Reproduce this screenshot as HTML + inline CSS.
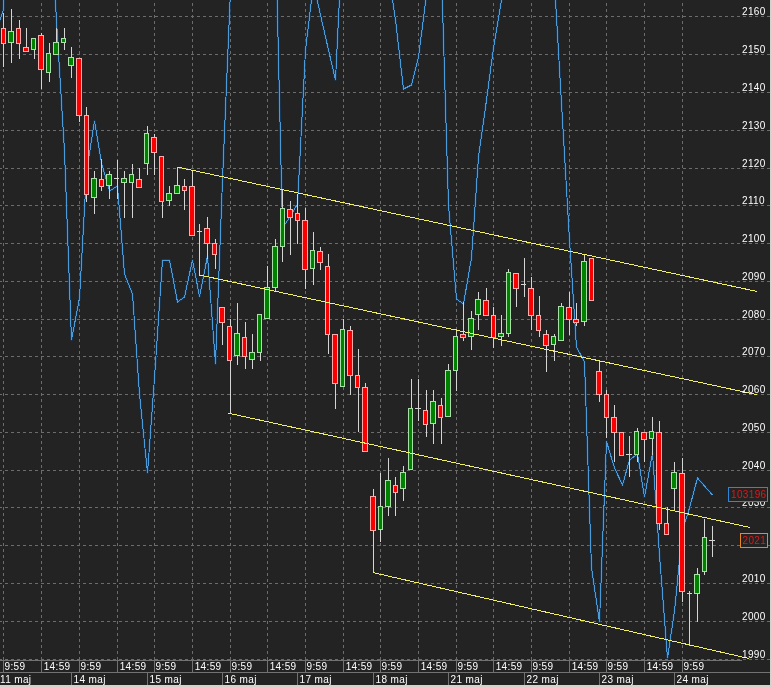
<!DOCTYPE html>
<html><head><meta charset="utf-8"><title>Chart</title>
<style>html,body{margin:0;padding:0;background:#232323;}body{width:771px;height:687px;overflow:hidden;}svg{display:block;}text{font-family:"Liberation Sans",Arial,sans-serif;font-size:10px;letter-spacing:0.35px;}</style></head><body>
<svg width="771" height="687" viewBox="0 0 771 687">
<rect x="0" y="0" width="771" height="687" fill="#232323"/>
<g stroke="#6c6c6c" stroke-width="1" fill="none" shape-rendering="crispEdges">
<line x1="0" y1="16.5" x2="770" y2="16.5" stroke-dasharray="3 3" stroke-dashoffset="1"/>
<line x1="0" y1="54.5" x2="770" y2="54.5" stroke-dasharray="3 3" stroke-dashoffset="1"/>
<line x1="0" y1="92.5" x2="770" y2="92.5" stroke-dasharray="3 3" stroke-dashoffset="1"/>
<line x1="0" y1="130.5" x2="770" y2="130.5" stroke-dasharray="3 3" stroke-dashoffset="1"/>
<line x1="0" y1="168.5" x2="770" y2="168.5" stroke-dasharray="3 3" stroke-dashoffset="1"/>
<line x1="0" y1="205.5" x2="770" y2="205.5" stroke-dasharray="3 3" stroke-dashoffset="1"/>
<line x1="0" y1="243.5" x2="770" y2="243.5" stroke-dasharray="3 3" stroke-dashoffset="1"/>
<line x1="0" y1="281.5" x2="770" y2="281.5" stroke-dasharray="3 3" stroke-dashoffset="1"/>
<line x1="0" y1="319.5" x2="770" y2="319.5" stroke-dasharray="3 3" stroke-dashoffset="1"/>
<line x1="0" y1="356.5" x2="770" y2="356.5" stroke-dasharray="3 3" stroke-dashoffset="1"/>
<line x1="0" y1="394.5" x2="770" y2="394.5" stroke-dasharray="3 3" stroke-dashoffset="1"/>
<line x1="0" y1="432.5" x2="770" y2="432.5" stroke-dasharray="3 3" stroke-dashoffset="1"/>
<line x1="0" y1="470.5" x2="770" y2="470.5" stroke-dasharray="3 3" stroke-dashoffset="1"/>
<line x1="0" y1="507.5" x2="770" y2="507.5" stroke-dasharray="3 3" stroke-dashoffset="1"/>
<line x1="0" y1="545.5" x2="770" y2="545.5" stroke-dasharray="3 3" stroke-dashoffset="1"/>
<line x1="0" y1="583.5" x2="770" y2="583.5" stroke-dasharray="3 3" stroke-dashoffset="1"/>
<line x1="0" y1="621.5" x2="770" y2="621.5" stroke-dasharray="3 3" stroke-dashoffset="1"/>
<line x1="0" y1="659.5" x2="770" y2="659.5" stroke-dasharray="3 3" stroke-dashoffset="1"/>
<line x1="3.5" y1="0" x2="3.5" y2="660" stroke-dasharray="3 3" stroke-dashoffset="3"/>
<line x1="41.5" y1="0" x2="41.5" y2="660" stroke-dasharray="3 3" stroke-dashoffset="3"/>
<line x1="79.5" y1="0" x2="79.5" y2="660" stroke-dasharray="3 3" stroke-dashoffset="3"/>
<line x1="117.5" y1="0" x2="117.5" y2="660" stroke-dasharray="3 3" stroke-dashoffset="3"/>
<line x1="154.5" y1="0" x2="154.5" y2="660" stroke-dasharray="3 3" stroke-dashoffset="3"/>
<line x1="192.5" y1="0" x2="192.5" y2="660" stroke-dasharray="3 3" stroke-dashoffset="3"/>
<line x1="230.5" y1="0" x2="230.5" y2="660" stroke-dasharray="3 3" stroke-dashoffset="3"/>
<line x1="267.5" y1="0" x2="267.5" y2="660" stroke-dasharray="3 3" stroke-dashoffset="3"/>
<line x1="305.5" y1="0" x2="305.5" y2="660" stroke-dasharray="3 3" stroke-dashoffset="3"/>
<line x1="343.5" y1="0" x2="343.5" y2="660" stroke-dasharray="3 3" stroke-dashoffset="3"/>
<line x1="380.5" y1="0" x2="380.5" y2="660" stroke-dasharray="3 3" stroke-dashoffset="3"/>
<line x1="418.5" y1="0" x2="418.5" y2="660" stroke-dasharray="3 3" stroke-dashoffset="3"/>
<line x1="456.5" y1="0" x2="456.5" y2="660" stroke-dasharray="3 3" stroke-dashoffset="3"/>
<line x1="493.5" y1="0" x2="493.5" y2="660" stroke-dasharray="3 3" stroke-dashoffset="3"/>
<line x1="531.5" y1="0" x2="531.5" y2="660" stroke-dasharray="3 3" stroke-dashoffset="3"/>
<line x1="569.5" y1="0" x2="569.5" y2="660" stroke-dasharray="3 3" stroke-dashoffset="3"/>
<line x1="606.5" y1="0" x2="606.5" y2="660" stroke-dasharray="3 3" stroke-dashoffset="3"/>
<line x1="644.5" y1="0" x2="644.5" y2="660" stroke-dasharray="3 3" stroke-dashoffset="3"/>
<line x1="682.5" y1="0" x2="682.5" y2="660" stroke-dasharray="3 3" stroke-dashoffset="3"/>
</g>
<polyline points="-3.5,29 3.5,10 11.5,-300 19.5,-300 26.5,-300 34.5,-300 41.5,-250 49.5,-107 56.5,21 64.5,151 71.5,340 79.5,298 86.5,172 94.5,121 101.5,163 109.5,191 117.5,186 124.5,274 132.5,294 139.5,394 147.5,473 154.5,378 162.5,260 169.5,260 177.5,302 184.5,297 192.5,260 199.5,296.5 207.5,256 215.5,364 222.5,180 230.5,-10 237.5,-200 245.5,-250 252.5,-250 260.5,-250 267.5,-200 275.5,-70 282.5,228 290.5,216 297.5,204 305.5,50 313.5,-17 320.5,15 328.5,50 335.5,80 343.5,-84 350.5,-200 358.5,-250 365.5,-250 373.5,-200 380.5,-120 388.5,-27 395.5,20 403.5,89 411.5,85 418.5,57 426.5,-5 433.5,-50 441.5,-27 448.5,205 456.5,299 463.5,304 471.5,258 478.5,157 486.5,100 493.5,48 501.5,0 508.5,-60 516.5,-150 524.5,-200 531.5,-200 539.5,-200 546.5,-120 554.5,-17 561.5,103 569.5,240 576.5,347 584.5,362 591.5,568 599.5,622 606.5,441.5 614.5,468 622.5,485 629.5,460 637.5,454 644.5,497 652.5,453 659.5,555 667.5,658 674.5,611 682.5,530 689.5,508 697.5,478 704.5,486 712.5,495" fill="none" stroke="#143c62" stroke-width="2.2" stroke-linejoin="round"/>
<polyline points="-3.5,29 3.5,10 11.5,-300 19.5,-300 26.5,-300 34.5,-300 41.5,-250 49.5,-107 56.5,21 64.5,151 71.5,340 79.5,298 86.5,172 94.5,121 101.5,163 109.5,191 117.5,186 124.5,274 132.5,294 139.5,394 147.5,473 154.5,378 162.5,260 169.5,260 177.5,302 184.5,297 192.5,260 199.5,296.5 207.5,256 215.5,364 222.5,180 230.5,-10 237.5,-200 245.5,-250 252.5,-250 260.5,-250 267.5,-200 275.5,-70 282.5,228 290.5,216 297.5,204 305.5,50 313.5,-17 320.5,15 328.5,50 335.5,80 343.5,-84 350.5,-200 358.5,-250 365.5,-250 373.5,-200 380.5,-120 388.5,-27 395.5,20 403.5,89 411.5,85 418.5,57 426.5,-5 433.5,-50 441.5,-27 448.5,205 456.5,299 463.5,304 471.5,258 478.5,157 486.5,100 493.5,48 501.5,0 508.5,-60 516.5,-150 524.5,-200 531.5,-200 539.5,-200 546.5,-120 554.5,-17 561.5,103 569.5,240 576.5,347 584.5,362 591.5,568 599.5,622 606.5,441.5 614.5,468 622.5,485 629.5,460 637.5,454 644.5,497 652.5,453 659.5,555 667.5,658 674.5,611 682.5,530 689.5,508 697.5,478 704.5,486 712.5,495" fill="none" stroke="#4c9ad8" stroke-width="1" stroke-linejoin="miter" stroke-miterlimit="3" shape-rendering="crispEdges"/>
<g shape-rendering="crispEdges">
<rect x="3" y="13" width="1" height="54" fill="#d4d4d4"/>
<rect x="1" y="28" width="5" height="16" fill="#ffaaaa"/>
<rect x="2" y="29" width="3" height="14" fill="#f80000"/>
<rect x="11" y="9" width="1" height="54" fill="#d4d4d4"/>
<rect x="8" y="31" width="6" height="12" fill="#a8e0a8"/>
<rect x="9" y="32" width="4" height="10" fill="#008200"/>
<rect x="19" y="20" width="1" height="39" fill="#d4d4d4"/>
<rect x="16" y="28" width="5" height="16" fill="#ffaaaa"/>
<rect x="17" y="29" width="3" height="14" fill="#f80000"/>
<rect x="26" y="28" width="1" height="24" fill="#d4d4d4"/>
<rect x="23" y="47" width="6" height="5" fill="#ffaaaa"/>
<rect x="24" y="48" width="4" height="3" fill="#f80000"/>
<rect x="34" y="38" width="1" height="21" fill="#d4d4d4"/>
<rect x="31" y="38" width="5" height="12" fill="#a8e0a8"/>
<rect x="32" y="39" width="3" height="10" fill="#008200"/>
<rect x="41" y="33" width="1" height="56" fill="#d4d4d4"/>
<rect x="38" y="35" width="6" height="35" fill="#ffaaaa"/>
<rect x="39" y="36" width="4" height="33" fill="#f80000"/>
<rect x="49" y="43" width="1" height="39" fill="#d4d4d4"/>
<rect x="46" y="53" width="5" height="20" fill="#a8e0a8"/>
<rect x="47" y="54" width="3" height="18" fill="#008200"/>
<rect x="56" y="28" width="1" height="27" fill="#d4d4d4"/>
<rect x="53" y="42" width="6" height="13" fill="#a8e0a8"/>
<rect x="54" y="43" width="4" height="11" fill="#008200"/>
<rect x="64" y="28" width="1" height="22" fill="#d4d4d4"/>
<rect x="61" y="38" width="5" height="5" fill="#a8e0a8"/>
<rect x="62" y="39" width="3" height="3" fill="#008200"/>
<rect x="71" y="47" width="1" height="31" fill="#d4d4d4"/>
<rect x="68" y="57" width="6" height="9" fill="#a8e0a8"/>
<rect x="69" y="58" width="4" height="7" fill="#008200"/>
<rect x="79" y="58" width="1" height="64" fill="#d4d4d4"/>
<rect x="76" y="58" width="6" height="58" fill="#ffaaaa"/>
<rect x="77" y="59" width="4" height="56" fill="#f80000"/>
<rect x="86" y="107" width="1" height="95" fill="#d4d4d4"/>
<rect x="84" y="115" width="5" height="80" fill="#ffaaaa"/>
<rect x="85" y="116" width="3" height="78" fill="#f80000"/>
<rect x="94" y="171" width="1" height="43" fill="#d4d4d4"/>
<rect x="91" y="178" width="6" height="20" fill="#a8e0a8"/>
<rect x="92" y="179" width="4" height="18" fill="#008200"/>
<rect x="101" y="159" width="1" height="32" fill="#d4d4d4"/>
<rect x="99" y="179" width="5" height="8" fill="#ffaaaa"/>
<rect x="100" y="180" width="3" height="6" fill="#f80000"/>
<rect x="109" y="171" width="1" height="28" fill="#d4d4d4"/>
<rect x="106" y="174" width="6" height="12" fill="#a8e0a8"/>
<rect x="107" y="175" width="4" height="10" fill="#008200"/>
<rect x="117" y="160" width="1" height="39" fill="#d4d4d4"/>
<rect x="114" y="178" width="5" height="1" fill="#d4d4d4"/>
<rect x="124" y="171" width="1" height="47" fill="#d4d4d4"/>
<rect x="121" y="178" width="6" height="5" fill="#a8e0a8"/>
<rect x="122" y="179" width="4" height="3" fill="#008200"/>
<rect x="132" y="164" width="1" height="54" fill="#d4d4d4"/>
<rect x="129" y="174" width="5" height="9" fill="#a8e0a8"/>
<rect x="130" y="175" width="3" height="7" fill="#008200"/>
<rect x="139" y="168" width="1" height="20" fill="#d4d4d4"/>
<rect x="136" y="179" width="6" height="9" fill="#ffaaaa"/>
<rect x="137" y="180" width="4" height="7" fill="#f80000"/>
<rect x="147" y="126" width="1" height="49" fill="#d4d4d4"/>
<rect x="144" y="133" width="5" height="31" fill="#a8e0a8"/>
<rect x="145" y="134" width="3" height="29" fill="#008200"/>
<rect x="154" y="134" width="1" height="41" fill="#d4d4d4"/>
<rect x="151" y="137" width="6" height="16" fill="#ffaaaa"/>
<rect x="152" y="138" width="4" height="14" fill="#f80000"/>
<rect x="162" y="156" width="1" height="62" fill="#d4d4d4"/>
<rect x="159" y="156" width="5" height="46" fill="#ffaaaa"/>
<rect x="160" y="157" width="3" height="44" fill="#f80000"/>
<rect x="169" y="186" width="1" height="20" fill="#d4d4d4"/>
<rect x="166" y="193" width="6" height="8" fill="#a8e0a8"/>
<rect x="167" y="194" width="4" height="6" fill="#008200"/>
<rect x="177" y="167" width="1" height="27" fill="#d4d4d4"/>
<rect x="174" y="185" width="6" height="9" fill="#a8e0a8"/>
<rect x="175" y="186" width="4" height="7" fill="#008200"/>
<rect x="184" y="179" width="1" height="31" fill="#d4d4d4"/>
<rect x="182" y="186" width="5" height="5" fill="#ffaaaa"/>
<rect x="183" y="187" width="3" height="3" fill="#f80000"/>
<rect x="192" y="170" width="1" height="66" fill="#d4d4d4"/>
<rect x="189" y="186" width="6" height="50" fill="#ffaaaa"/>
<rect x="190" y="187" width="4" height="48" fill="#f80000"/>
<rect x="199" y="224" width="1" height="52" fill="#d4d4d4"/>
<rect x="197" y="231" width="5" height="1" fill="#d4d4d4"/>
<rect x="207" y="217" width="1" height="42" fill="#d4d4d4"/>
<rect x="204" y="228" width="6" height="16" fill="#ffaaaa"/>
<rect x="205" y="229" width="4" height="14" fill="#f80000"/>
<rect x="215" y="239" width="1" height="30" fill="#d4d4d4"/>
<rect x="212" y="243" width="5" height="12" fill="#ffaaaa"/>
<rect x="213" y="244" width="3" height="10" fill="#f80000"/>
<rect x="222" y="307" width="1" height="38" fill="#d4d4d4"/>
<rect x="219" y="307" width="6" height="16" fill="#ffaaaa"/>
<rect x="220" y="308" width="4" height="14" fill="#f80000"/>
<rect x="230" y="319" width="1" height="95" fill="#d4d4d4"/>
<rect x="227" y="326" width="5" height="35" fill="#ffaaaa"/>
<rect x="228" y="327" width="3" height="33" fill="#f80000"/>
<rect x="237" y="303" width="1" height="62" fill="#d4d4d4"/>
<rect x="234" y="333" width="6" height="23" fill="#a8e0a8"/>
<rect x="235" y="334" width="4" height="21" fill="#008200"/>
<rect x="245" y="322" width="1" height="47" fill="#d4d4d4"/>
<rect x="242" y="337" width="5" height="20" fill="#ffaaaa"/>
<rect x="243" y="338" width="3" height="18" fill="#f80000"/>
<rect x="252" y="334" width="1" height="35" fill="#d4d4d4"/>
<rect x="249" y="352" width="6" height="8" fill="#a8e0a8"/>
<rect x="250" y="353" width="4" height="6" fill="#008200"/>
<rect x="260" y="314" width="1" height="47" fill="#d4d4d4"/>
<rect x="257" y="314" width="5" height="39" fill="#a8e0a8"/>
<rect x="258" y="315" width="3" height="37" fill="#008200"/>
<rect x="267" y="266" width="1" height="53" fill="#d4d4d4"/>
<rect x="264" y="287" width="6" height="32" fill="#a8e0a8"/>
<rect x="265" y="288" width="4" height="30" fill="#008200"/>
<rect x="275" y="239" width="1" height="53" fill="#d4d4d4"/>
<rect x="272" y="246" width="6" height="42" fill="#a8e0a8"/>
<rect x="273" y="247" width="4" height="40" fill="#008200"/>
<rect x="282" y="189" width="1" height="73" fill="#d4d4d4"/>
<rect x="280" y="208" width="5" height="39" fill="#a8e0a8"/>
<rect x="281" y="209" width="3" height="37" fill="#008200"/>
<rect x="290" y="201" width="1" height="54" fill="#d4d4d4"/>
<rect x="287" y="209" width="6" height="9" fill="#ffaaaa"/>
<rect x="288" y="210" width="4" height="7" fill="#f80000"/>
<rect x="297" y="194" width="1" height="50" fill="#d4d4d4"/>
<rect x="295" y="213" width="5" height="8" fill="#ffaaaa"/>
<rect x="296" y="214" width="3" height="6" fill="#f80000"/>
<rect x="305" y="208" width="1" height="81" fill="#d4d4d4"/>
<rect x="302" y="220" width="6" height="50" fill="#ffaaaa"/>
<rect x="303" y="221" width="4" height="48" fill="#f80000"/>
<rect x="313" y="232" width="1" height="53" fill="#d4d4d4"/>
<rect x="310" y="250" width="5" height="19" fill="#a8e0a8"/>
<rect x="311" y="251" width="3" height="17" fill="#008200"/>
<rect x="320" y="247" width="1" height="23" fill="#d4d4d4"/>
<rect x="317" y="251" width="6" height="12" fill="#ffaaaa"/>
<rect x="318" y="252" width="4" height="10" fill="#f80000"/>
<rect x="328" y="254" width="1" height="100" fill="#d4d4d4"/>
<rect x="325" y="266" width="5" height="69" fill="#ffaaaa"/>
<rect x="326" y="267" width="3" height="67" fill="#f80000"/>
<rect x="335" y="334" width="1" height="75" fill="#d4d4d4"/>
<rect x="332" y="334" width="6" height="50" fill="#ffaaaa"/>
<rect x="333" y="335" width="4" height="48" fill="#f80000"/>
<rect x="343" y="319" width="1" height="68" fill="#d4d4d4"/>
<rect x="340" y="329" width="5" height="58" fill="#a8e0a8"/>
<rect x="341" y="330" width="3" height="56" fill="#008200"/>
<rect x="350" y="326" width="1" height="69" fill="#d4d4d4"/>
<rect x="347" y="330" width="6" height="46" fill="#ffaaaa"/>
<rect x="348" y="331" width="4" height="44" fill="#f80000"/>
<rect x="358" y="349" width="1" height="83" fill="#d4d4d4"/>
<rect x="355" y="375" width="5" height="13" fill="#ffaaaa"/>
<rect x="356" y="376" width="3" height="11" fill="#f80000"/>
<rect x="365" y="383" width="1" height="69" fill="#d4d4d4"/>
<rect x="362" y="387" width="6" height="65" fill="#ffaaaa"/>
<rect x="363" y="388" width="4" height="63" fill="#f80000"/>
<rect x="373" y="489" width="1" height="84" fill="#d4d4d4"/>
<rect x="370" y="496" width="6" height="35" fill="#ffaaaa"/>
<rect x="371" y="497" width="4" height="33" fill="#f80000"/>
<rect x="380" y="473" width="1" height="69" fill="#d4d4d4"/>
<rect x="378" y="506" width="5" height="24" fill="#a8e0a8"/>
<rect x="379" y="507" width="3" height="22" fill="#008200"/>
<rect x="388" y="458" width="1" height="58" fill="#d4d4d4"/>
<rect x="385" y="480" width="6" height="27" fill="#a8e0a8"/>
<rect x="386" y="481" width="4" height="25" fill="#008200"/>
<rect x="395" y="477" width="1" height="39" fill="#d4d4d4"/>
<rect x="393" y="485" width="5" height="8" fill="#ffaaaa"/>
<rect x="394" y="486" width="3" height="6" fill="#f80000"/>
<rect x="403" y="466" width="1" height="35" fill="#d4d4d4"/>
<rect x="400" y="472" width="6" height="17" fill="#a8e0a8"/>
<rect x="401" y="473" width="4" height="15" fill="#008200"/>
<rect x="411" y="379" width="1" height="91" fill="#d4d4d4"/>
<rect x="408" y="408" width="5" height="62" fill="#a8e0a8"/>
<rect x="409" y="409" width="3" height="60" fill="#008200"/>
<rect x="418" y="379" width="1" height="42" fill="#d4d4d4"/>
<rect x="415" y="408" width="6" height="1" fill="#d4d4d4"/>
<rect x="426" y="390" width="1" height="47" fill="#d4d4d4"/>
<rect x="423" y="410" width="5" height="15" fill="#ffaaaa"/>
<rect x="424" y="411" width="3" height="13" fill="#f80000"/>
<rect x="433" y="390" width="1" height="54" fill="#d4d4d4"/>
<rect x="430" y="401" width="6" height="23" fill="#a8e0a8"/>
<rect x="431" y="402" width="4" height="21" fill="#008200"/>
<rect x="441" y="398" width="1" height="46" fill="#d4d4d4"/>
<rect x="438" y="405" width="5" height="13" fill="#ffaaaa"/>
<rect x="439" y="406" width="3" height="11" fill="#f80000"/>
<rect x="448" y="364" width="1" height="53" fill="#d4d4d4"/>
<rect x="445" y="370" width="6" height="47" fill="#a8e0a8"/>
<rect x="446" y="371" width="4" height="45" fill="#008200"/>
<rect x="456" y="329" width="1" height="62" fill="#d4d4d4"/>
<rect x="453" y="336" width="5" height="35" fill="#a8e0a8"/>
<rect x="454" y="337" width="3" height="33" fill="#008200"/>
<rect x="463" y="302" width="1" height="39" fill="#d4d4d4"/>
<rect x="460" y="334" width="6" height="4" fill="#ffaaaa"/>
<rect x="461" y="335" width="4" height="2" fill="#f80000"/>
<rect x="471" y="311" width="1" height="39" fill="#d4d4d4"/>
<rect x="468" y="318" width="6" height="19" fill="#a8e0a8"/>
<rect x="469" y="319" width="4" height="17" fill="#008200"/>
<rect x="478" y="292" width="1" height="38" fill="#d4d4d4"/>
<rect x="475" y="299" width="6" height="16" fill="#a8e0a8"/>
<rect x="476" y="300" width="4" height="14" fill="#008200"/>
<rect x="486" y="288" width="1" height="28" fill="#d4d4d4"/>
<rect x="483" y="300" width="6" height="16" fill="#ffaaaa"/>
<rect x="484" y="301" width="4" height="14" fill="#f80000"/>
<rect x="493" y="307" width="1" height="41" fill="#d4d4d4"/>
<rect x="491" y="315" width="5" height="23" fill="#ffaaaa"/>
<rect x="492" y="316" width="3" height="21" fill="#f80000"/>
<rect x="501" y="315" width="1" height="31" fill="#d4d4d4"/>
<rect x="498" y="333" width="6" height="4" fill="#a8e0a8"/>
<rect x="499" y="334" width="4" height="2" fill="#008200"/>
<rect x="508" y="269" width="1" height="68" fill="#d4d4d4"/>
<rect x="506" y="272" width="5" height="62" fill="#a8e0a8"/>
<rect x="507" y="273" width="3" height="60" fill="#008200"/>
<rect x="516" y="273" width="1" height="34" fill="#d4d4d4"/>
<rect x="513" y="273" width="6" height="16" fill="#ffaaaa"/>
<rect x="514" y="274" width="4" height="14" fill="#f80000"/>
<rect x="524" y="258" width="1" height="39" fill="#d4d4d4"/>
<rect x="521" y="284" width="5" height="1" fill="#d4d4d4"/>
<rect x="531" y="277" width="1" height="53" fill="#d4d4d4"/>
<rect x="528" y="288" width="6" height="28" fill="#ffaaaa"/>
<rect x="529" y="289" width="4" height="26" fill="#f80000"/>
<rect x="539" y="296" width="1" height="41" fill="#d4d4d4"/>
<rect x="536" y="315" width="5" height="16" fill="#ffaaaa"/>
<rect x="537" y="316" width="3" height="14" fill="#f80000"/>
<rect x="546" y="330" width="1" height="42" fill="#d4d4d4"/>
<rect x="543" y="334" width="6" height="12" fill="#ffaaaa"/>
<rect x="544" y="335" width="4" height="10" fill="#f80000"/>
<rect x="554" y="334" width="1" height="27" fill="#d4d4d4"/>
<rect x="551" y="336" width="5" height="9" fill="#a8e0a8"/>
<rect x="552" y="337" width="3" height="7" fill="#008200"/>
<rect x="561" y="303" width="1" height="38" fill="#d4d4d4"/>
<rect x="558" y="306" width="6" height="35" fill="#a8e0a8"/>
<rect x="559" y="307" width="4" height="33" fill="#008200"/>
<rect x="569" y="292" width="1" height="43" fill="#d4d4d4"/>
<rect x="566" y="307" width="6" height="13" fill="#ffaaaa"/>
<rect x="567" y="308" width="4" height="11" fill="#f80000"/>
<rect x="576" y="303" width="1" height="23" fill="#d4d4d4"/>
<rect x="573" y="319" width="6" height="4" fill="#ffaaaa"/>
<rect x="574" y="320" width="4" height="2" fill="#f80000"/>
<rect x="584" y="255" width="1" height="71" fill="#d4d4d4"/>
<rect x="581" y="261" width="6" height="61" fill="#a8e0a8"/>
<rect x="582" y="262" width="4" height="59" fill="#008200"/>
<rect x="591" y="258" width="1" height="43" fill="#d4d4d4"/>
<rect x="589" y="258" width="5" height="43" fill="#ffaaaa"/>
<rect x="590" y="259" width="3" height="41" fill="#f80000"/>
<rect x="599" y="360" width="1" height="42" fill="#d4d4d4"/>
<rect x="596" y="371" width="6" height="24" fill="#ffaaaa"/>
<rect x="597" y="372" width="4" height="22" fill="#f80000"/>
<rect x="606" y="390" width="1" height="48" fill="#d4d4d4"/>
<rect x="604" y="394" width="5" height="24" fill="#ffaaaa"/>
<rect x="605" y="395" width="3" height="22" fill="#f80000"/>
<rect x="614" y="405" width="1" height="57" fill="#d4d4d4"/>
<rect x="611" y="417" width="6" height="16" fill="#ffaaaa"/>
<rect x="612" y="418" width="4" height="14" fill="#f80000"/>
<rect x="622" y="432" width="1" height="24" fill="#d4d4d4"/>
<rect x="619" y="432" width="5" height="24" fill="#ffaaaa"/>
<rect x="620" y="433" width="3" height="22" fill="#f80000"/>
<rect x="629" y="436" width="1" height="41" fill="#d4d4d4"/>
<rect x="626" y="454" width="6" height="1" fill="#d4d4d4"/>
<rect x="637" y="428" width="1" height="34" fill="#d4d4d4"/>
<rect x="634" y="431" width="5" height="24" fill="#a8e0a8"/>
<rect x="635" y="432" width="3" height="22" fill="#008200"/>
<rect x="644" y="432" width="1" height="30" fill="#d4d4d4"/>
<rect x="641" y="432" width="6" height="8" fill="#ffaaaa"/>
<rect x="642" y="433" width="4" height="6" fill="#f80000"/>
<rect x="652" y="417" width="1" height="38" fill="#d4d4d4"/>
<rect x="649" y="431" width="5" height="8" fill="#a8e0a8"/>
<rect x="650" y="432" width="3" height="6" fill="#008200"/>
<rect x="659" y="421" width="1" height="109" fill="#d4d4d4"/>
<rect x="656" y="432" width="6" height="92" fill="#ffaaaa"/>
<rect x="657" y="433" width="4" height="90" fill="#f80000"/>
<rect x="667" y="507" width="1" height="28" fill="#d4d4d4"/>
<rect x="664" y="523" width="5" height="12" fill="#ffaaaa"/>
<rect x="665" y="524" width="3" height="10" fill="#f80000"/>
<rect x="674" y="462" width="1" height="49" fill="#d4d4d4"/>
<rect x="671" y="472" width="6" height="17" fill="#a8e0a8"/>
<rect x="672" y="473" width="4" height="15" fill="#008200"/>
<rect x="682" y="458" width="1" height="144" fill="#d4d4d4"/>
<rect x="679" y="473" width="6" height="119" fill="#ffaaaa"/>
<rect x="680" y="474" width="4" height="117" fill="#f80000"/>
<rect x="689" y="591" width="1" height="55" fill="#d4d4d4"/>
<rect x="687" y="593" width="5" height="1" fill="#d4d4d4"/>
<rect x="697" y="568" width="1" height="54" fill="#d4d4d4"/>
<rect x="694" y="574" width="6" height="20" fill="#a8e0a8"/>
<rect x="695" y="575" width="4" height="18" fill="#008200"/>
<rect x="704" y="519" width="1" height="56" fill="#d4d4d4"/>
<rect x="702" y="537" width="5" height="35" fill="#a8e0a8"/>
<rect x="703" y="538" width="3" height="33" fill="#008200"/>
<rect x="712" y="526" width="1" height="31" fill="#d4d4d4"/>
<rect x="709" y="540" width="6" height="1" fill="#d4d4d4"/>
</g>
<g stroke="#f0f060" stroke-width="1" fill="none" shape-rendering="crispEdges">
<line x1="178" y1="167.2" x2="757.1" y2="291.5"/>
<line x1="199.5" y1="275" x2="757.1" y2="394.7"/>
<line x1="228.5" y1="413.2" x2="750.1" y2="527.5"/>
<line x1="372.7" y1="572.5" x2="748.9" y2="658.5"/>
</g>
<g fill="#ffffff">
<text x="742" y="15.1">2160</text>
<text x="742" y="53.1">2150</text>
<text x="742" y="91.1">2140</text>
<text x="742" y="129.1">2130</text>
<text x="742" y="167.1">2120</text>
<text x="742" y="204.1">2110</text>
<text x="742" y="242.1">2100</text>
<text x="742" y="280.1">2090</text>
<text x="742" y="318.1">2080</text>
<text x="742" y="355.1">2070</text>
<text x="742" y="393.1">2060</text>
<text x="742" y="431.1">2050</text>
<text x="742" y="469.1">2040</text>
<text x="742" y="506.1">2030</text>
<text x="742" y="544.1">2020</text>
<text x="742" y="582.1">2010</text>
<text x="742" y="620.1">2000</text>
<text x="742" y="658.1">1990</text>
</g>
<rect x="728.5" y="487.5" width="39" height="14" fill="#232323" stroke="#2f86d6" stroke-width="1"/>
<text x="731" y="498" fill="#e01818">103196</text>
<rect x="740.5" y="533.5" width="27" height="14" fill="#232323" stroke="#e8862a" stroke-width="1"/>
<text x="742.5" y="544" fill="#e01818">2021</text>
<rect x="0" y="660" width="770" height="25" fill="#232323"/>
<g stroke="#727272" stroke-width="1" shape-rendering="crispEdges">
<line x1="0" y1="660.5" x2="742" y2="660.5"/>
<line x1="0" y1="672.5" x2="770" y2="672.5"/>
<line x1="3.5" y1="660" x2="3.5" y2="672"/>
<line x1="41.5" y1="660" x2="41.5" y2="672"/>
<line x1="79.5" y1="660" x2="79.5" y2="672"/>
<line x1="117.5" y1="660" x2="117.5" y2="672"/>
<line x1="154.5" y1="660" x2="154.5" y2="672"/>
<line x1="192.5" y1="660" x2="192.5" y2="672"/>
<line x1="230.5" y1="660" x2="230.5" y2="672"/>
<line x1="267.5" y1="660" x2="267.5" y2="672"/>
<line x1="305.5" y1="660" x2="305.5" y2="672"/>
<line x1="343.5" y1="660" x2="343.5" y2="672"/>
<line x1="380.5" y1="660" x2="380.5" y2="672"/>
<line x1="418.5" y1="660" x2="418.5" y2="672"/>
<line x1="456.5" y1="660" x2="456.5" y2="672"/>
<line x1="493.5" y1="660" x2="493.5" y2="672"/>
<line x1="531.5" y1="660" x2="531.5" y2="672"/>
<line x1="569.5" y1="660" x2="569.5" y2="672"/>
<line x1="606.5" y1="660" x2="606.5" y2="672"/>
<line x1="644.5" y1="660" x2="644.5" y2="672"/>
<line x1="682.5" y1="660" x2="682.5" y2="672"/>
<line x1="71.5" y1="672" x2="71.5" y2="685"/>
<line x1="147.5" y1="672" x2="147.5" y2="685"/>
<line x1="222.5" y1="672" x2="222.5" y2="685"/>
<line x1="297.5" y1="672" x2="297.5" y2="685"/>
<line x1="373.5" y1="672" x2="373.5" y2="685"/>
<line x1="448.5" y1="672" x2="448.5" y2="685"/>
<line x1="524.5" y1="672" x2="524.5" y2="685"/>
<line x1="599.5" y1="672" x2="599.5" y2="685"/>
<line x1="674.5" y1="672" x2="674.5" y2="685"/>
</g>
<g fill="#ffffff">
<text x="4.5" y="670.4">9:59</text>
<text x="43.7" y="670.4">14:59</text>
<text x="80.5" y="670.4">9:59</text>
<text x="119.7" y="670.4">14:59</text>
<text x="155.5" y="670.4">9:59</text>
<text x="194.7" y="670.4">14:59</text>
<text x="231.5" y="670.4">9:59</text>
<text x="269.7" y="670.4">14:59</text>
<text x="306.5" y="670.4">9:59</text>
<text x="345.7" y="670.4">14:59</text>
<text x="381.5" y="670.4">9:59</text>
<text x="420.7" y="670.4">14:59</text>
<text x="457.5" y="670.4">9:59</text>
<text x="495.7" y="670.4">14:59</text>
<text x="532.5" y="670.4">9:59</text>
<text x="571.7" y="670.4">14:59</text>
<text x="607.5" y="670.4">9:59</text>
<text x="646.7" y="670.4">14:59</text>
<text x="683.5" y="670.4">9:59</text>
<text x="0" y="683">11 maj</text>
<text x="73.6" y="683">14 maj</text>
<text x="149.6" y="683">15 maj</text>
<text x="224.6" y="683">16 maj</text>
<text x="299.6" y="683">17 maj</text>
<text x="375.6" y="683">18 maj</text>
<text x="450.6" y="683">21 maj</text>
<text x="526.6" y="683">22 maj</text>
<text x="601.6" y="683">23 maj</text>
<text x="676.6" y="683">24 maj</text>
</g>
<rect x="770" y="0" width="1" height="687" fill="#d5d2cb"/>
<rect x="0" y="685" width="771" height="2" fill="#d5d2cb"/>
</svg></body></html>
